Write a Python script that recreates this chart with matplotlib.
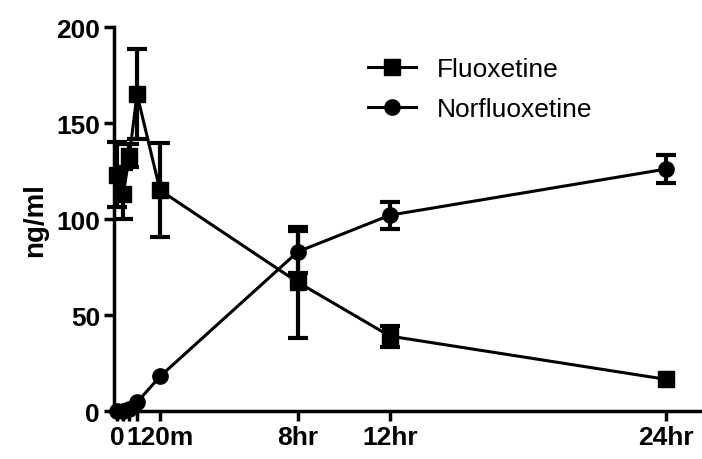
import matplotlib
matplotlib.use("Agg")
import matplotlib.pyplot as plt

plt.rcParams['font.family'] = ['Liberation Sans', 'DejaVu Sans']

# time (hours)
times = [0.15, 0.4, 0.67, 1.0, 2.0, 8.0, 12.0, 24.0]
fluoxetine = [123, 113, 133, 165, 115, 67, 39, 16.5]
fluoxetine_err = [17, 13, 6, 23.5, 24.5, 29, 5.5, 0]
norfluoxetine = [0, 0, 1, 4.5, 18, 83, 102, 126]
norfluoxetine_err = [0, 0, 0, 0, 0, 11, 7, 7.5]

tick_pos = [0.15, 0.4, 0.67, 1.0, 2.0, 8.0, 12.0, 24.0]
tick_labels = ['0', '', '', '', '120m', '8hr', '12hr', '24hr']
y_ticks = [0, 50, 100, 150, 200]

fig = plt.figure(figsize=(7.02, 4.6), dpi=100)
ax = fig.add_axes([114/702, 1-412/460, (700-114)/702, (412-28)/460])

def draw(vals, errs, marker, label):
    xs = [t for t, e in zip(times, errs) if e > 0]
    ys = [v for v, e in zip(vals, errs) if e > 0]
    es = [e for e in errs if e > 0]
    ax.errorbar(xs, ys, yerr=es, fmt='none', ecolor='black', elinewidth=3,
                capsize=7.5, capthick=3, zorder=2, clip_on=False)
    ax.plot(times, vals, color='black', lw=2.2, marker=marker, markersize=11,
            label=label, zorder=3, clip_on=False)

draw(fluoxetine, fluoxetine_err, 's', 'Fluoxetine')
draw(norfluoxetine, norfluoxetine_err, 'o', 'Norfluoxetine')

ax.set_xlim(0, (700-114)/23)
ax.set_ylim(0, 200)
ax.set_xticks(tick_pos)
ax.set_xticklabels(tick_labels)
ax.set_yticks(y_ticks)
for s in ['top', 'right']:
    ax.spines[s].set_visible(False)
for s in ['left', 'bottom']:
    ax.spines[s].set_linewidth(2.5)
ax.tick_params(axis='both', direction='out', length=7, width=2.5,
               labelsize=19, pad=3)
for lab in ax.get_xticklabels() + ax.get_yticklabels():
    lab.set_fontweight('bold')
ax.set_ylabel('ng/ml', fontsize=20, fontweight='bold', labelpad=6)

leg = ax.legend(loc='upper left', bbox_to_anchor=(368/702, 1-58/460),
                bbox_transform=fig.transFigure, frameon=False, fontsize=19,
                handlelength=1.8, handletextpad=0.8, labelspacing=0.6,
                borderpad=0, borderaxespad=0)

fig.savefig('out.png', dpi=100)
